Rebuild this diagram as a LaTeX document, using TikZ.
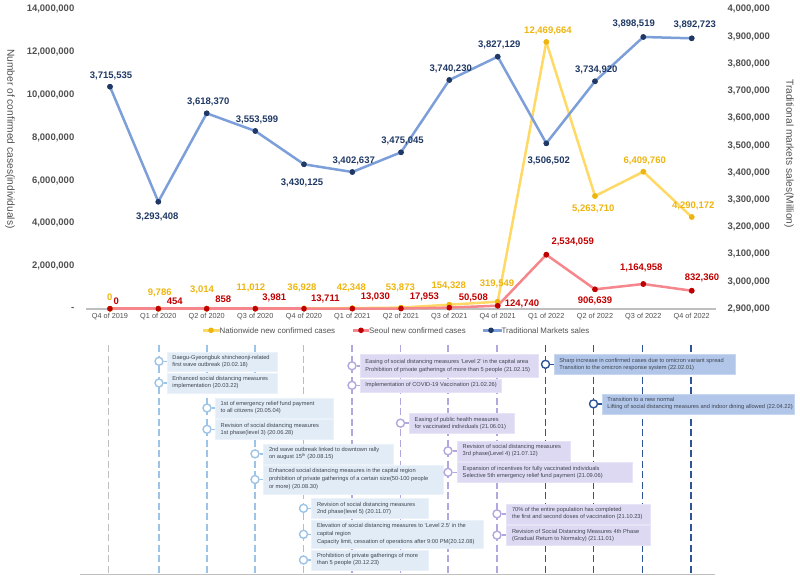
\documentclass[tikz,border=0pt]{standalone}
\usepackage{fontspec}
\setmainfont{Liberation Sans}
\usepackage{tikz}

\definecolor{navytxt}{HTML}{1F3864}
\definecolor{goldtxt}{HTML}{EDB50F}
\definecolor{redtxt}{HTML}{C00000}
\definecolor{blueline}{HTML}{7C9FD9}
\definecolor{goldline}{HTML}{FFD966}
\definecolor{redline}{HTML}{F4868C}
\definecolor{axisgray}{HTML}{BFBFBF}
\definecolor{tickgray}{HTML}{505050}
\definecolor{boxtxt}{HTML}{3F4650}
\definecolor{dashlight}{HTML}{9DC3E6}
\definecolor{dashpurple}{HTML}{B4A7E0}
\definecolor{dashdark}{HTML}{2F5597}
\definecolor{filllight}{HTML}{E2ECF6}
\definecolor{fillpurple}{HTML}{DDD9F3}
\definecolor{filldark}{HTML}{B1C6E9}

\tikzset{
	ticklab/.style={font=\fontsize{9.5}{10}\selectfont\bfseries, text=tickgray},
	xlab/.style={font=\fontsize{7.3}{8}\selectfont, text=tickgray},
	leglab/.style={font=\fontsize{7.9}{8}\selectfont, text=tickgray, anchor=west, inner sep=0pt},
	axtitle/.style={font=\fontsize{10.2}{11}\selectfont, text=tickgray},
	val/.style={font=\fontsize{9.5}{10}\selectfont\bfseries, inner sep=0pt},
	dot/.style={circle, inner sep=0pt, minimum size=5.6pt},
	serie/.style={line width=2.5pt},
	event/.style={anchor=north west, inner sep=0pt, font=\fontsize{5.7}{7}\selectfont, text=boxtxt, align=left},
	ring/.style={circle, draw, line width=1.4pt, fill=white, inner sep=0pt, minimum size=8pt},
}

% draws one event box, #1 colour name, #2 name, #3 line x, #4 left, #5 top, #6 right, #7 bottom, #8 text
\newcommand{\eventbox}[8]{
	\path[fill=fill#1, draw=fill#1!70!white, line width=.4pt] (#4,#5) rectangle (#6,#7);
	\node[event, minimum width=#6pt-#4pt, minimum height=#7pt-#5pt, text depth=0pt] (ev#2) at (#4,#5) {};
	\node[event, anchor=west] (txt#2) at ({#4+5.5},{(#5+#7)/2}) {#8};
	\node[ring, draw=dash#1] (rg#2) at (#3,{(#5+#7)/2}) {};
	\draw[dash#1, line width=1.4pt] (rg#2) -- (ev#2.west |- rg#2);
}

\begin{document}
\begin{tikzpicture}[x=1pt, y=-1pt]
	\useasboundingbox (0,0) rectangle (800,576);

	% axes
	\draw[axisgray, line width=1.6pt] (86,309) -- (716,309);
	\foreach \t [count=\n from 0] in {{14,000,000},{12,000,000},{10,000,000},{8,000,000},{6,000,000},{4,000,000},{2,000,000}} {
		\node[ticklab, anchor=east, inner sep=0pt] (lt\n) at (74.5,9.3+42.8*\n) {\t};
	}
	\node[ticklab, anchor=east, inner sep=0pt] (lt7) at (74.5,309) {-};
	\foreach \t [count=\n from 0] in {{4,000,000},{3,900,000},{3,800,000},{3,700,000},{3,600,000},{3,500,000},{3,400,000},{3,300,000},{3,200,000},{3,100,000},{3,000,000},{2,900,000}} {
		\node[ticklab, anchor=west, inner sep=0pt] (rt\n) at (727.5,9.3+27.23*\n) {\t};
	}
	\node[axtitle, rotate=-90] (ltitle) at (10,139) {Number of confirmed cases(individuals)};
	\node[axtitle, rotate=-90] (rtitle) at (789,153.5) {Traditional markets sales(Million)};

	\foreach \x/\t in {110/Q4 of 2019,158.3/Q1 of 2020,206.7/Q2 of 2020,255.3/Q3 of 2020,304/Q4 of 2020,352.3/Q1 of 2021,401/Q2 of 2021,449.3/Q3 of 2021,497.7/Q4 of 2021,546.3/Q1 of 2022,595/Q2 of 2022,643.3/Q3 of 2022,691.7/Q4 of 2022} {
		\node[xlab] (q\x) at (\x,316.5) {\t};
	}

	% data lines
	\foreach \n/\x/\y in {1/110/308.7,2/158.3/308.7,3/206.7/308.7,4/255.3/308.6,5/304/308.4,6/352.3/308.2,7/401/307.6,8/449.3/304.7,9/497.7/301.7,10/546.3/42,11/595/196,12/643.3/171.7,13/691.7/217} {
		\node[dot, fill=goldtxt] (g\n) at (\x,\y) {};
	}
	\foreach \n/\x/\y in {1/110/308.7,2/158.3/308.7,3/206.7/308.7,4/255.3/308.7,5/304/308.7,6/352.3/308.6,7/401/308.5,8/449.3/307.6,9/497.7/305.7,10/546.3/254.7,11/595/289.3,12/643.3/284,13/691.7/290.7} {
		\node[dot, fill=redtxt] (r\n) at (\x,\y) {};
	}
	\foreach \n/\x/\y in {1/110/86.7,2/158.3/201.7,3/206.7/113.3,4/255.3/131,5/304/164.3,6/352.3/172,7/401/152.3,8/449.3/80,9/497.7/56.7,10/546.3/143.3,11/595/81.3,12/643.3/37,13/691.7/38.3} {
		\node[dot, fill=navytxt] (b\n) at (\x,\y) {};
	}
	\foreach \a/\c in {g/goldline,r/redline,b/blueline} {
		\foreach \n [count=\m from 2] in {1,...,12} {
			\draw[serie, \c] (\a\n.center) -- (\a\m.center);
		}
	}
	\foreach \n in {1,...,13} {
		\node[dot, fill=goldtxt] at (g\n) {};
		\node[dot, fill=redtxt] at (r\n) {};
		\node[dot, fill=navytxt] at (b\n) {};
	}

	% values
	\foreach \n/\x/\y/\t in {1/111/75.7/{3,715,535},2/157.3/216.7/{3,293,408},3/208.3/102/{3,618,370},4/257/120/{3,553,599},5/302/182.7/{3,430,125},6/353.7/161/{3,402,637},7/402.5/141/{3,475,045},8/450.7/69/{3,740,230},9/499.3/45.3/{3,827,129},10/548.7/161.3/{3,506,502},11/596.3/70.3/{3,734,920},12/633.7/24/{3,898,519},13/694.7/24.7/{3,892,723}} {
		\node[val, text=navytxt] (bv\n) at (\x,\y) {\t};
	}
	\foreach \n/\x/\y/\t in {1/109.7/297.7/0,2/159.7/293.3/{9,786},3/202/290/{3,014},4/251/287.7/{11,012},5/302/287.7/{36,928},6/351.3/287.7/{42,348},7/400.3/287.7/{53,873},8/448.7/285.7/{154,328},9/497/283.7/{319,549},10/548/31/{12,469,664},11/593.3/209/{5,263,710},12/644.7/160.7/{6,409,760},13/693.3/206.3/{4,290,172}} {
		\node[val, text=goldtxt] (gv\n) at (\x,\y) {\t};
	}
	\foreach \n/\x/\y/\t in {1/116.3/301.7/0,2/174.7/301.7/454,3/223.3/299.7/858,4/274.3/298/{3,981},5/325.3/298.7/{13,711},6/375.3/297.3/{13,030},7/424.3/297/{17,953},8/473.3/297.7/{50,508},9/522/304/{124,740},10/572.7/241.7/{2,534,059},11/595/300.7/{906,639},12/641.3/268.3/{1,164,958},13/702/277.7/{832,360}} {
		\node[val, text=redtxt] (rv\n) at (\x,\y) {\t};
	}

	% legend
	\node[leglab] (lg1) at (219.5,330.3) {Nationwide new confirmed cases};
	\node[leglab] (lg2) at (369,330.3) {Seoul new confirmed cases};
	\node[leglab] (lg3) at (501.5,330.3) {Traditional Markets sales};
	\coordinate (ls1) at (203.3,330.3);
	\coordinate (ls2) at (353.3,330.3);
	\coordinate (ls3) at (483.3,330.3);
	\draw[serie, goldline] (ls1) -- (lg1.west);
	\draw[serie, redline] (ls2) -- (lg2.west);
	\draw[serie, blueline] (ls3) -- (lg3.west);
	\node[dot, fill=goldtxt] (ld1) at (211,330.3) {};
	\node[dot, fill=redtxt] (ld2) at (361,330.3) {};
	\node[dot, fill=navytxt] (ld3) at (491,330.3) {};

	% timeline
	\draw[axisgray, line width=1.6pt] (80,574.5) -- (715,574.5);
	\foreach \x/\c in {108.5/axisgray,159/dashlight,207/dashlight,255/dashlight,303.5/dashlight,352/dashpurple,400.5/dashpurple,448/dashpurple,497/dashpurple,545.5/dashdark,593.5/dashdark,642.5/dashdark,691/dashdark} {
		\draw[\c, line width=1.7pt, dash pattern=on 7pt off 3.5pt] (\x,345) -- (\x,574);
	}

	\eventbox{light}{1}{159}{166.7}{351.7}{277}{371}{Daegu-Gyeongbuk shincheonji-related\\first wave outbreak (20.02.18)}
	\eventbox{light}{2}{159}{166.7}{373}{277}{393}{Enhanced social distancing measures\\implementation (20.03.22)}
	\eventbox{light}{3}{207}{215}{398.3}{333.3}{417.7}{1st of emergency relief fund payment\\to all citizens (20.05.04)}
	\eventbox{light}{4}{207}{215}{419.3}{333.3}{439.3}{Revision of social distancing measures\\1st phase(level 3) (20.06.28)}
	\eventbox{light}{5}{255}{263.3}{444}{392.7}{463.7}{2nd wave outbreak linked to downtown rally\\on august 15\textsuperscript{th} (20.08.15)}
	\eventbox{light}{6}{255}{263.3}{465.3}{442.7}{493.7}{Enhanced social distancing measures in the capital region\\[1pt]prohibition of private gatherings of a certain size(50-100 people\\[1pt]or more) (20.08.30)}
	\eventbox{light}{7}{303.5}{311.3}{498.3}{428.3}{518.3}{Revision of social distancing measures\\2nd phase(level 5) (20.11.07)}
	\eventbox{light}{8}{303.5}{311.3}{520.3}{482.7}{548.3}{Elevation of social distancing measures to `Level 2.5' in the\\[1pt]capital region\\[1pt]Capacity limit, cessation of operations after 9:00 PM(20.12.08)}
	\eventbox{light}{9}{303.5}{311.3}{550}{428.3}{570}{Prohibition of private gatherings of more\\than 5 people (20.12.23)}
	\eventbox{purple}{10}{352}{359.7}{354.3}{537.7}{377.3}{Easing of social distancing measures `Level 2' in the capital area\\[1pt]Prohibition of private gatherings of more than 5 people (21.02.15)}
	\eventbox{purple}{11}{352}{359.7}{379}{500.7}{391.7}{Implementation of COVID-19 Vaccination (21.02.26)}
	\eventbox{purple}{12}{400.5}{409}{413.3}{514.3}{433}{Easing of public health measures\\for vaccinated individuals (21.06.01)}
	\eventbox{purple}{13}{448}{457}{441}{570}{460.7}{Revision of social distancing measures\\3rd phase(Level 4) (21.07.12)}
	\eventbox{purple}{14}{448}{457}{462.3}{632}{482.3}{Expansion of incentives for fully vaccinated individuals\\Selective 5th emergency relief fund payment (21.09.06)}
	\eventbox{purple}{15}{497}{506.3}{504}{650}{523.7}{70\% of the entire population has completed\\the first and second doses of vaccination (21.10.23)}
	\eventbox{purple}{16}{497}{506.3}{525.3}{650}{545}{Revision of Social Distancing Measures 4th Phase\\(Gradual Return to Normalcy) (21.11.01)}
	\eventbox{dark}{17}{545.5}{553.7}{354.3}{735}{374.3}{Sharp increase in confirmed cases due to omicron variant spread\\Transition to the omicron response system (22.02.01)}
	\eventbox{dark}{18}{593.5}{601.7}{394}{794}{413.7}{Transition to a new normal\\Lifting of social distancing measures and indoor dining allowed (22.04.22)}
\end{tikzpicture}
\end{document}
